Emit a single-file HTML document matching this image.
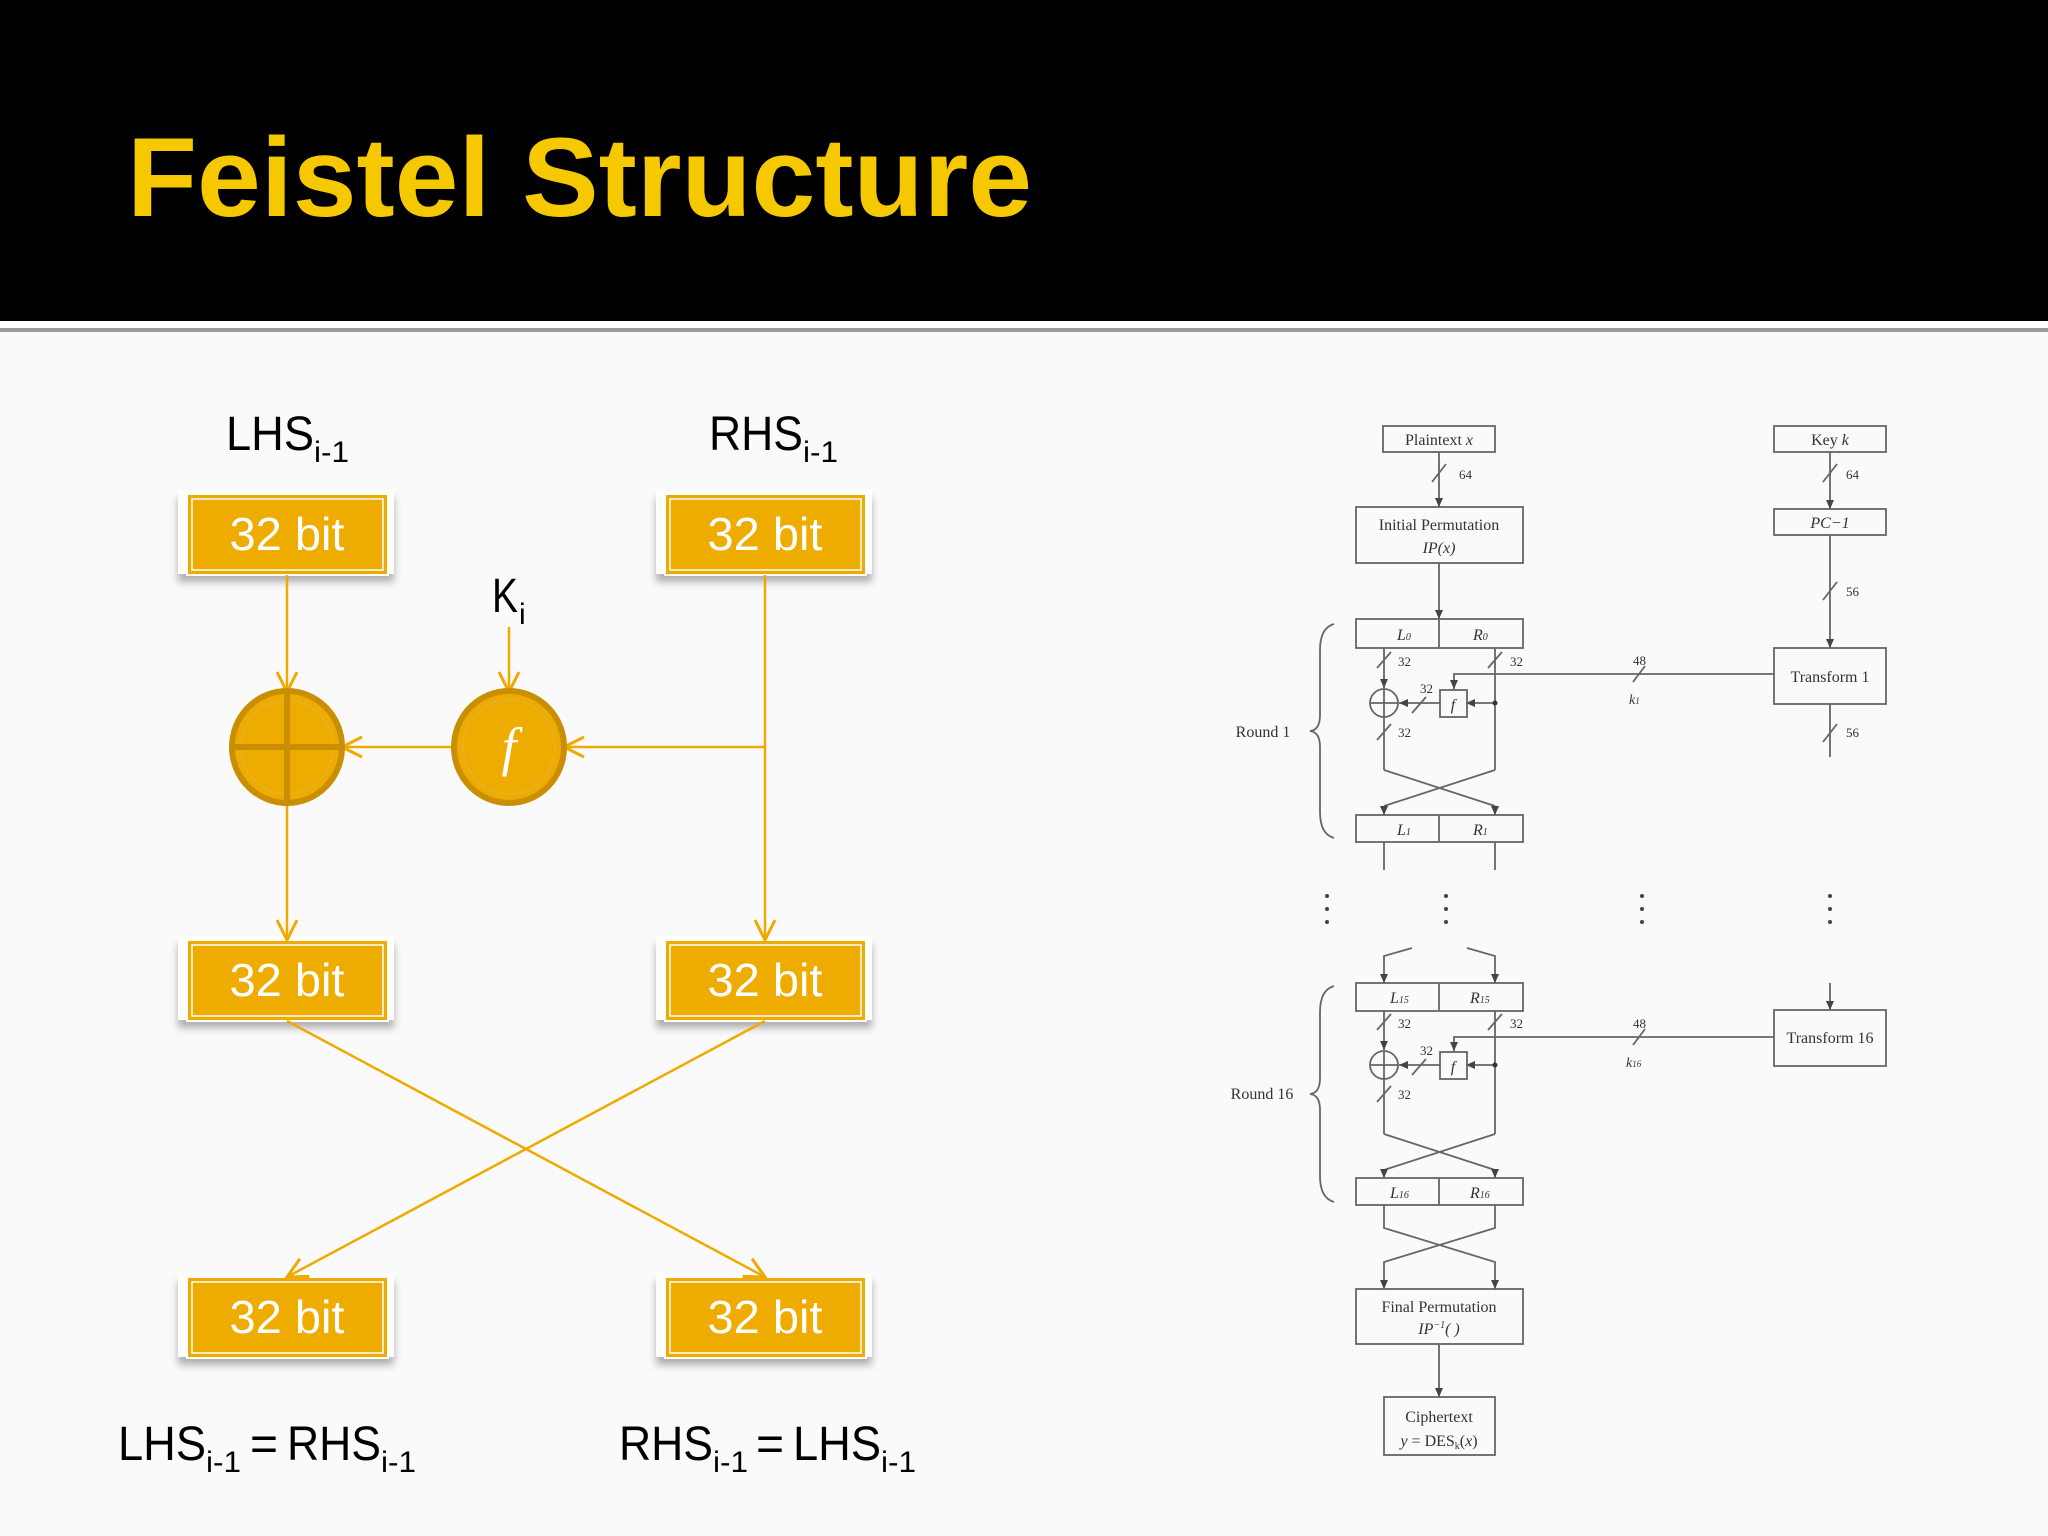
<!DOCTYPE html>
<html><head><meta charset="utf-8"><style>
html,body{margin:0;padding:0;background:#fafafa;}
svg{display:block}
</style></head><body>
<svg width="2048" height="1536" viewBox="0 0 2048 1536" xmlns="http://www.w3.org/2000/svg">
<defs>
<marker id="ah" markerWidth="10" markerHeight="10" refX="9" refY="5" orient="auto" markerUnits="userSpaceOnUse">
<path d="M0,1 L9,5 L0,9 Z" fill="#444"/>
</marker>
<marker id="oa" markerWidth="30" markerHeight="30" refX="22" refY="12" orient="auto" markerUnits="userSpaceOnUse">
<path d="M2,2 L22,12 L2,22" fill="none" stroke="#eeaa00" stroke-width="3"/>
</marker>
<filter id="sh" x="-10%" y="-10%" width="120%" height="140%"><feDropShadow dx="0" dy="8" stdDeviation="4" flood-color="#000" flood-opacity="0.3"/></filter>
</defs>
<rect x="0" y="0" width="2048" height="1536" fill="#fafafa"/>
<rect x="0" y="0" width="2048" height="321" fill="#000"/>
<rect x="0" y="321" width="2048" height="7" fill="#fff"/>
<rect x="0" y="328" width="2048" height="4" fill="#9a9a9a"/>
<text x="127" y="216" font-family="Liberation Sans, sans-serif" font-weight="bold" font-size="112" fill="#f5c800" textLength="905" lengthAdjust="spacingAndGlyphs">Feistel Structure</text>

<!-- LEFT FEISTEL -->
<g font-family="Liberation Sans, sans-serif" fill="#000">
<text x="226" y="450" font-size="48" textLength="88" lengthAdjust="spacingAndGlyphs">LHS</text>
<text x="314" y="462" font-size="30" textLength="35" lengthAdjust="spacingAndGlyphs">i-1</text>
<text x="709" y="450" font-size="48" textLength="94" lengthAdjust="spacingAndGlyphs">RHS</text>
<text x="803" y="462" font-size="30" textLength="35" lengthAdjust="spacingAndGlyphs">i-1</text>
<text x="492" y="612" font-size="48" textLength="26" lengthAdjust="spacingAndGlyphs">K</text>
<text x="519" y="624" font-size="30">i</text>

<text x="118" y="1460" font-size="48" textLength="88" lengthAdjust="spacingAndGlyphs">LHS</text>
<text x="206" y="1472" font-size="30" textLength="35" lengthAdjust="spacingAndGlyphs">i-1</text>
<text x="250" y="1460" font-size="48">=</text>
<text x="287" y="1460" font-size="48" textLength="94" lengthAdjust="spacingAndGlyphs">RHS</text>
<text x="381" y="1472" font-size="30" textLength="35" lengthAdjust="spacingAndGlyphs">i-1</text>

<text x="619" y="1460" font-size="48" textLength="94" lengthAdjust="spacingAndGlyphs">RHS</text>
<text x="713" y="1472" font-size="30" textLength="35" lengthAdjust="spacingAndGlyphs">i-1</text>
<text x="756" y="1460" font-size="48">=</text>
<text x="793" y="1460" font-size="48" textLength="88" lengthAdjust="spacingAndGlyphs">LHS</text>
<text x="881" y="1472" font-size="30" textLength="35" lengthAdjust="spacingAndGlyphs">i-1</text>
</g>

<g id="boxes">
<g filter="url(#sh)">
<rect x="178" y="490" width="216" height="84" fill="#fff"/>
<rect x="656" y="490" width="216" height="84" fill="#fff"/>
<rect x="178" y="936" width="216" height="84" fill="#fff"/>
<rect x="656" y="936" width="216" height="84" fill="#fff"/>
<rect x="178" y="1273" width="216" height="84" fill="#fff"/>
<rect x="656" y="1273" width="216" height="84" fill="#fff"/>
</g>
<g fill="#efac00" stroke="#fff" stroke-width="2">
<rect x="187" y="494" width="201" height="81"/>
<rect x="665" y="494" width="201" height="81"/>
<rect x="187" y="940" width="201" height="81"/>
<rect x="665" y="940" width="201" height="81"/>
<rect x="187" y="1277" width="201" height="81"/>
<rect x="665" y="1277" width="201" height="81"/>
</g>
<g fill="none" stroke="#fff" stroke-width="1.5">
<rect x="192" y="499" width="191" height="71"/>
<rect x="670" y="499" width="191" height="71"/>
<rect x="192" y="945" width="191" height="71"/>
<rect x="670" y="945" width="191" height="71"/>
<rect x="192" y="1282" width="191" height="71"/>
<rect x="670" y="1282" width="191" height="71"/>
</g>
<g font-family="Liberation Sans, sans-serif" font-size="46" fill="#fff" text-anchor="middle">
<text x="287" y="550" textLength="115" lengthAdjust="spacingAndGlyphs">32 bit</text>
<text x="765" y="550" textLength="115" lengthAdjust="spacingAndGlyphs">32 bit</text>
<text x="287" y="996" textLength="115" lengthAdjust="spacingAndGlyphs">32 bit</text>
<text x="765" y="996" textLength="115" lengthAdjust="spacingAndGlyphs">32 bit</text>
<text x="287" y="1333" textLength="115" lengthAdjust="spacingAndGlyphs">32 bit</text>
<text x="765" y="1333" textLength="115" lengthAdjust="spacingAndGlyphs">32 bit</text>
</g>
</g>

<g stroke="#eeaa00" stroke-width="2.5" fill="none">
<line x1="287" y1="575" x2="287" y2="692" marker-end="url(#oa)"/>
<line x1="509" y1="627" x2="509" y2="692" marker-end="url(#oa)"/>
<line x1="765" y1="575" x2="765" y2="940" marker-end="url(#oa)"/>
<line x1="765" y1="747" x2="564" y2="747" marker-end="url(#oa)"/>
<line x1="454" y1="747" x2="342" y2="747" marker-end="url(#oa)"/>
<line x1="287" y1="802" x2="287" y2="940" marker-end="url(#oa)"/>
<line x1="287" y1="1021" x2="765" y2="1277" marker-end="url(#oa)"/>
<line x1="765" y1="1021" x2="287" y2="1277" marker-end="url(#oa)"/>
</g>
<g>
<ellipse cx="287" cy="747" rx="55" ry="56" fill="#efac00" stroke="#c98f00" stroke-width="6"/>
<ellipse cx="287" cy="747" rx="46" ry="47" fill="none" stroke="#e8b020" stroke-width="2"/>
<line x1="287" y1="692" x2="287" y2="802" stroke="#c98f00" stroke-width="6"/>
<line x1="232" y1="747" x2="342" y2="747" stroke="#c98f00" stroke-width="6"/>
<ellipse cx="509" cy="747" rx="55" ry="56" fill="#efac00" stroke="#c98f00" stroke-width="6"/>
<ellipse cx="509" cy="747" rx="46" ry="47" fill="none" stroke="#e8b020" stroke-width="2"/>
<text x="509" y="765" font-family="Liberation Serif, serif" font-style="italic" font-size="54" fill="#fff" text-anchor="middle">f</text>
</g>

<!-- DES -->
<g font-family="Liberation Serif, serif" font-size="16" fill="#333" stroke="none">
<g fill="none" stroke="#666" stroke-width="1.8">
<rect x="1383" y="426" width="112" height="26"/>
<rect x="1774" y="426" width="112" height="26"/>
<rect x="1356" y="507" width="167" height="56"/>
<rect x="1774" y="509" width="112" height="26"/>
<rect x="1774" y="648" width="112" height="56"/>
<rect x="1774" y="1010" width="112" height="56"/>
<rect x="1356" y="1289" width="167" height="55"/>
<rect x="1384" y="1397" width="111" height="58"/>
<line x1="1439" y1="452" x2="1439" y2="507" marker-end="url(#ah)"/>
<line x1="1439" y1="563" x2="1439" y2="619" marker-end="url(#ah)"/>
<line x1="1830" y1="452" x2="1830" y2="509" marker-end="url(#ah)"/>
<line x1="1830" y1="535" x2="1830" y2="648" marker-end="url(#ah)"/>
<line x1="1830" y1="704" x2="1830" y2="757"/>
<line x1="1830" y1="983" x2="1830" y2="1010" marker-end="url(#ah)"/>
<line x1="1439" y1="1344" x2="1439" y2="1397" marker-end="url(#ah)"/>
<line x1="1432" y1="482" x2="1446" y2="464"/>
<line x1="1823" y1="482" x2="1837" y2="464"/>
<line x1="1823" y1="600" x2="1837" y2="582"/>
<line x1="1823" y1="742" x2="1837" y2="724"/>
<!-- between rounds -->
<line x1="1384" y1="842" x2="1384" y2="870"/>
<line x1="1495" y1="842" x2="1495" y2="870"/>
<polyline points="1412,948 1384,956 1384,983" marker-end="url(#ah)"/>
<polyline points="1467,948 1495,956 1495,983" marker-end="url(#ah)"/>
<!-- after round 16 -->
<polyline points="1384,1205 1384,1228 1495,1262 1495,1289" marker-end="url(#ah)"/>
<polyline points="1495,1205 1495,1228 1384,1262 1384,1289" marker-end="url(#ah)"/>
<!-- braces -->
<path d="M1334,624 Q1320,628 1320,650 L1320,715 Q1320,730 1310,731 Q1320,732 1320,747 L1320,812 Q1320,834 1334,838"/>
<path d="M1334,986 Q1320,990 1320,1012 L1320,1078 Q1320,1093 1310,1094 Q1320,1095 1320,1110 L1320,1176 Q1320,1198 1334,1202"/>
</g>
<text x="1439" y="445" text-anchor="middle">Plaintext <tspan font-style="italic">x</tspan></text>
<text x="1830" y="445" text-anchor="middle">Key <tspan font-style="italic">k</tspan></text>
<text x="1459" y="479" font-size="13">64</text>
<text x="1846" y="479" font-size="13">64</text>
<text x="1846" y="596" font-size="13">56</text>
<text x="1846" y="737" font-size="13">56</text>
<text x="1439" y="530" text-anchor="middle">Initial Permutation</text>
<text x="1439" y="553" text-anchor="middle" font-style="italic">IP(x)</text>
<text x="1830" y="528" text-anchor="middle" font-style="italic">PC−1</text>
<text x="1830" y="682" text-anchor="middle">Transform 1</text>
<text x="1830" y="1043" text-anchor="middle">Transform 16</text>
<text x="1439" y="1312" text-anchor="middle">Final Permutation</text>
<text x="1439" y="1334" text-anchor="middle" font-style="italic">IP<tspan font-size="10" dy="-6">−1</tspan><tspan dy="6">(  )</tspan></text>
<text x="1439" y="1422" text-anchor="middle">Ciphertext</text>
<text x="1439" y="1446" text-anchor="middle"><tspan font-style="italic">y</tspan> =  DES<tspan font-size="10" dy="3">k</tspan><tspan dy="-3">(<tspan font-style="italic">x</tspan>)</tspan></text>
<text x="1263" y="737" text-anchor="middle">Round 1</text>
<text x="1262" y="1099" text-anchor="middle">Round 16</text>

<g id="r1">
<g fill="none" stroke="#666" stroke-width="1.8">
<rect x="1356" y="619" width="167" height="29"/>
<line x1="1439" y1="619" x2="1439" y2="648"/>
<line x1="1384" y1="648" x2="1384" y2="688" marker-end="url(#ah)"/>
<circle cx="1384" cy="703" r="14"/>
<line x1="1370" y1="703" x2="1398" y2="703"/>
<line x1="1384" y1="689" x2="1384" y2="717"/>
<line x1="1384" y1="717" x2="1384" y2="770"/>
<line x1="1495" y1="648" x2="1495" y2="770"/>
<line x1="1495" y1="703" x2="1466" y2="703" marker-end="url(#ah)"/>
<rect x="1440" y="690" width="27" height="27"/>
<line x1="1440" y1="703" x2="1399" y2="703" marker-end="url(#ah)"/>
<polyline points="1774,674 1454,674 1454,689" marker-end="url(#ah)"/>
<line x1="1377" y1="668" x2="1391" y2="652"/>
<line x1="1488" y1="668" x2="1502" y2="652"/>
<line x1="1377" y1="740" x2="1391" y2="724"/>
<line x1="1412" y1="713" x2="1426" y2="697"/>
<line x1="1633" y1="682" x2="1645" y2="666"/>
<line x1="1384" y1="770" x2="1495" y2="806"/>
<line x1="1495" y1="770" x2="1384" y2="806"/>
<line x1="1384" y1="806" x2="1384" y2="815" marker-end="url(#ah)"/>
<line x1="1495" y1="806" x2="1495" y2="815" marker-end="url(#ah)"/>
<rect x="1356" y="815" width="167" height="27"/>
<line x1="1439" y1="815" x2="1439" y2="842"/>
</g>
<circle cx="1495" cy="703" r="2.5" fill="#333"/>
<text x="1453" y="710" text-anchor="middle" font-style="italic">f</text>
<text x="1397" y="640" font-style="italic">L<tspan font-size="10">0</tspan></text>
<text x="1473" y="640" font-style="italic">R<tspan font-size="10">0</tspan></text>
<text x="1397" y="835" font-style="italic">L<tspan font-size="10">1</tspan></text>
<text x="1473" y="835" font-style="italic">R<tspan font-size="10">1</tspan></text>
<text x="1398" y="666" font-size="13">32</text>
<text x="1510" y="666" font-size="13">32</text>
<text x="1398" y="737" font-size="13">32</text>
<text x="1420" y="693" font-size="13">32</text>
<text x="1633" y="665" font-size="13">48</text>
<text x="1629" y="704" font-style="italic" font-size="14">k<tspan font-size="9">1</tspan></text>
</g>

<g transform="translate(0,362)">
<g fill="none" stroke="#666" stroke-width="1.8">
<rect x="1356" y="621" width="167" height="28"/>
<line x1="1439" y1="621" x2="1439" y2="648"/>
<line x1="1384" y1="648" x2="1384" y2="688" marker-end="url(#ah)"/>
<circle cx="1384" cy="703" r="14"/>
<line x1="1370" y1="703" x2="1398" y2="703"/>
<line x1="1384" y1="689" x2="1384" y2="717"/>
<line x1="1384" y1="717" x2="1384" y2="772"/>
<line x1="1495" y1="648" x2="1495" y2="772"/>
<line x1="1495" y1="703" x2="1466" y2="703" marker-end="url(#ah)"/>
<rect x="1440" y="690" width="27" height="27"/>
<line x1="1440" y1="703" x2="1399" y2="703" marker-end="url(#ah)"/>
<polyline points="1774,675 1454,675 1454,689" marker-end="url(#ah)"/>
<line x1="1377" y1="668" x2="1391" y2="652"/>
<line x1="1488" y1="668" x2="1502" y2="652"/>
<line x1="1377" y1="740" x2="1391" y2="724"/>
<line x1="1412" y1="713" x2="1426" y2="697"/>
<line x1="1633" y1="683" x2="1645" y2="667"/>
<line x1="1384" y1="772" x2="1495" y2="808"/>
<line x1="1495" y1="772" x2="1384" y2="808"/>
<line x1="1384" y1="808" x2="1384" y2="816" marker-end="url(#ah)"/>
<line x1="1495" y1="808" x2="1495" y2="816" marker-end="url(#ah)"/>
<rect x="1356" y="816" width="167" height="27"/>
<line x1="1439" y1="816" x2="1439" y2="843"/>
</g>
<circle cx="1495" cy="703" r="2.5" fill="#333"/>
<text x="1453" y="710" text-anchor="middle" font-style="italic">f</text>
<text x="1390" y="641" font-style="italic">L<tspan font-size="10">15</tspan></text>
<text x="1470" y="641" font-style="italic">R<tspan font-size="10">15</tspan></text>
<text x="1390" y="836" font-style="italic">L<tspan font-size="10">16</tspan></text>
<text x="1470" y="836" font-style="italic">R<tspan font-size="10">16</tspan></text>
<text x="1398" y="666" font-size="13">32</text>
<text x="1510" y="666" font-size="13">32</text>
<text x="1398" y="737" font-size="13">32</text>
<text x="1420" y="693" font-size="13">32</text>
<text x="1633" y="666" font-size="13">48</text>
<text x="1626" y="705" font-style="italic" font-size="14">k<tspan font-size="9">16</tspan></text>
</g>

<g fill="#444">
<circle cx="1327" cy="896" r="2"/><circle cx="1327" cy="909" r="2"/><circle cx="1327" cy="922" r="2"/>
<circle cx="1446" cy="896" r="2"/><circle cx="1446" cy="909" r="2"/><circle cx="1446" cy="922" r="2"/>
<circle cx="1642" cy="896" r="2"/><circle cx="1642" cy="909" r="2"/><circle cx="1642" cy="922" r="2"/>
<circle cx="1830" cy="896" r="2"/><circle cx="1830" cy="909" r="2"/><circle cx="1830" cy="922" r="2"/>
</g>
</g>
</svg>
</body></html>
